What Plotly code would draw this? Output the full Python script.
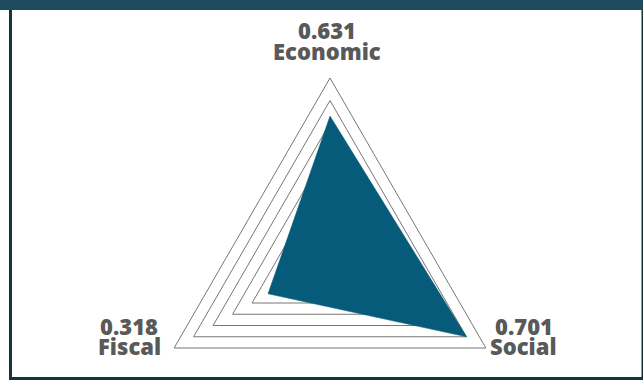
import numpy as np
import plotly.graph_objects as go

# Index scores per dimension
categories = ["Economic", "Social", "Fiscal"]
scores = [0.631, 0.701, 0.318]

# Concentric triangle gridlines (radial values)
grid_levels = [0.4, 0.5, 0.6, 0.7, 0.8]

W, H = 643, 385
CX, CY = 330, 258          # centre of the radar, px
R_PX = 180                 # px radius of the outermost ring
r_max = max(grid_levels)
unit = R_PX / r_max        # px per data unit

# axes ranges so that one data unit has the same length on x and y
x_range = [-CX / unit, (W - CX) / unit]
y_range = [-(H - CY) / unit, CY / unit]

n = len(categories)
theta = np.deg2rad(90 - 360 / n * np.arange(n))   # first axis on top, clockwise


def ring(values):
    v = np.asarray(values, dtype=float)
    x = v * np.cos(theta)
    y = v * np.sin(theta)
    return np.append(x, x[0]), np.append(y, y[0])


fig = go.Figure()

for lvl in grid_levels:
    gx, gy = ring([lvl] * n)
    fig.add_trace(go.Scatter(x=gx, y=gy, mode="lines",
                             line=dict(color="#777777", width=1),
                             hoverinfo="skip", showlegend=False))

sx, sy = ring(scores)
fig.add_trace(go.Scatter(x=sx, y=sy, mode="lines", fill="toself",
                         fillcolor="#065b7a",
                         line=dict(color="#065b7a", width=0.5),
                         hoverinfo="skip", showlegend=False))

# labels: value on the first line, dimension name below
label_font = dict(family="Open Sans", size=22, color="#595959", weight=800)
shifts = {  # (xshift, value-line yshift, name-line yshift) in px
    0: (-3, 48, 27),
    1: (38, 22, 2),
    2: (-45, 22, 2),
}
vx = r_max * np.cos(theta)
vy = r_max * np.sin(theta)
for i, (cat, val) in enumerate(zip(categories, scores)):
    dx, dy_val, dy_name = shifts[i]
    for txt, dy in ((f"{val:.3f}", dy_val), (cat, dy_name)):
        fig.add_annotation(x=vx[i], y=vy[i], xref="x", yref="y",
                           text=txt, showarrow=False,
                           xanchor="center", yanchor="middle",
                           xshift=dx, yshift=dy, font=label_font)

# dark frame around the panel
frame_top = "#1e4a5d"
frame_side = "#12343f"


def px_rect(x0, y0, x1, y1, color):
    fig.add_shape(type="rect", xref="paper", yref="paper",
                  x0=x0 / W, x1=x1 / W, y0=1 - y1 / H, y1=1 - y0 / H,
                  fillcolor=color, line=dict(width=0), layer="above")


px_rect(0, 0, W, 10, frame_top)
px_rect(9, 10, 12, 380, frame_side)
px_rect(641.5, 10, W, 380, frame_side)
px_rect(9, 377, W, 380, frame_side)

fig.update_xaxes(range=x_range, visible=False, fixedrange=True)
fig.update_yaxes(range=y_range, visible=False, fixedrange=True)
fig.update_layout(width=W, height=H,
                  margin=dict(l=0, r=0, t=0, b=0),
                  paper_bgcolor="white", plot_bgcolor="white",
                  showlegend=False)

fig.write_html("out.html")
